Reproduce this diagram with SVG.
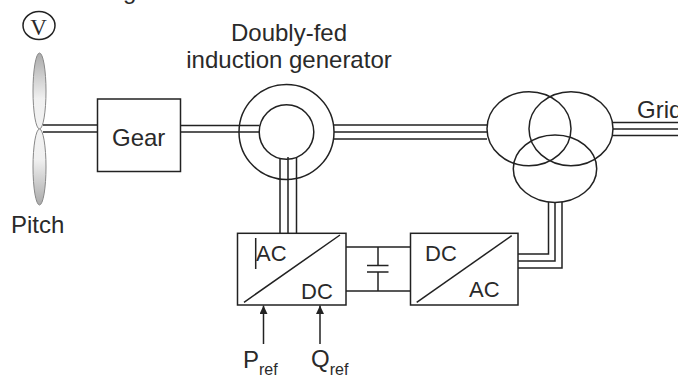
<svg xmlns="http://www.w3.org/2000/svg" width="678" height="376" viewBox="0 0 678 376">
<style>
text{font-family:"Liberation Sans",Arial,sans-serif;font-size:24px;fill:#2a2a2a}
.s{fill:none;stroke:#222;stroke-width:1.5}
.b{fill:#fff;stroke:#222;stroke-width:1.5}
.w{fill:none;stroke:#222;stroke-width:1.5}
.m{font-size:22px}
.sub{font-size:16px}
</style>
<defs>
<linearGradient id="bl" x1="0" y1="0" x2="0" y2="1">
<stop offset="0" stop-color="#aaa"/><stop offset="0.6" stop-color="#f0f0f0"/><stop offset="1" stop-color="#f2f2f2"/>
</linearGradient>
<linearGradient id="bl2" x1="0" y1="0" x2="0" y2="1">
<stop offset="0" stop-color="#f2f2f2"/><stop offset="0.4" stop-color="#f0f0f0"/><stop offset="1" stop-color="#aaa"/>
</linearGradient>
<marker id="a" markerWidth="9" markerHeight="9" refX="8.500" refY="4" orient="auto" markerUnits="userSpaceOnUse"><path d="M0,0L8.500,4L0,8z" fill="#222"/></marker>
</defs>
<g id="connectors">
<path class="w" d="M43 125H97M43 132H97"/>
<path class="w" d="M181 125.500H259.500M181 132H259.500"/>
<path class="w" d="M334 125H487M334 132H487M334 139H487"/>
<path class="w" d="M613 122.500H678M613 129H678M613 135.500H678"/>
<path class="w" d="M280 158V233M288 157V233M296.500 158V233"/>
<path class="w" d="M548.500 202V254H518M555 202V261H518M562 202V268H518"/>
<path class="w" d="M346 247H410.500M346 291H410.500M378 247V265.500M378 272V291M367 265.500H388.500M367 272H388.500"/>
<path class="s" marker-end="url(#a)" d="M263.500 344V305.500"/>
<path class="s" marker-end="url(#a)" d="M320 344V305.500"/>
</g>
<g id="wind-speed"><ellipse class="s" cx="39" cy="25.500" rx="16" ry="14"/><text x="38.500" y="35" text-anchor="middle" style="font-family:'Liberation Serif',serif;font-size:23px">V</text></g>
<g id="rotor">
<ellipse cx="39.500" cy="91" rx="6.500" ry="38" fill="url(#bl)" stroke="#888" stroke-width="1"/>
<ellipse cx="39.500" cy="167" rx="6.500" ry="38" fill="url(#bl2)" stroke="#888" stroke-width="1"/>
<text x="11" y="233">Pitch</text>
</g>
<text x="123" y="-1">g</text>
<g id="gear"><rect class="b" x="97.500" y="99" width="83" height="72.500"/><text x="112" y="146">Gear</text></g>
<g id="generator">
<circle class="s" cx="286.500" cy="132" r="47.500"/>
<circle class="s" cx="286.500" cy="132" r="27.300"/>
<text x="289" y="41" text-anchor="middle">Doubly-fed</text>
<text x="289" y="68" text-anchor="middle">induction generator</text>
</g>
<g id="transformer">
<ellipse class="s" cx="529" cy="128.700" rx="42" ry="37"/>
<ellipse class="s" cx="571" cy="128.700" rx="42" ry="37"/>
<ellipse class="s" cx="555" cy="168.700" rx="41.700" ry="33.700"/>
<text x="637" y="118">Grid</text>
</g>
<g id="rotor-converter">
<rect class="b" x="237.500" y="233.300" width="108.500" height="71.700"/>
<path class="s" d="M244 302.300L340 235M255.700 238V269"/>
<text class="m" x="256" y="261">AC</text><text class="m" x="301" y="299.300">DC</text>
</g>
<g id="grid-converter">
<rect class="b" x="410.500" y="233.300" width="107.500" height="71.700"/>
<path class="s" d="M416.700 302.300L511.700 235.700"/>
<text class="m" x="425" y="261">DC</text><text class="m" x="469" y="297">AC</text>
</g>
<g id="refs">
<text x="243" y="368">P<tspan class="sub" dy="7">ref</tspan></text>
<text x="311" y="367">Q<tspan class="sub" dy="8">ref</tspan></text>
</g>
</svg>
